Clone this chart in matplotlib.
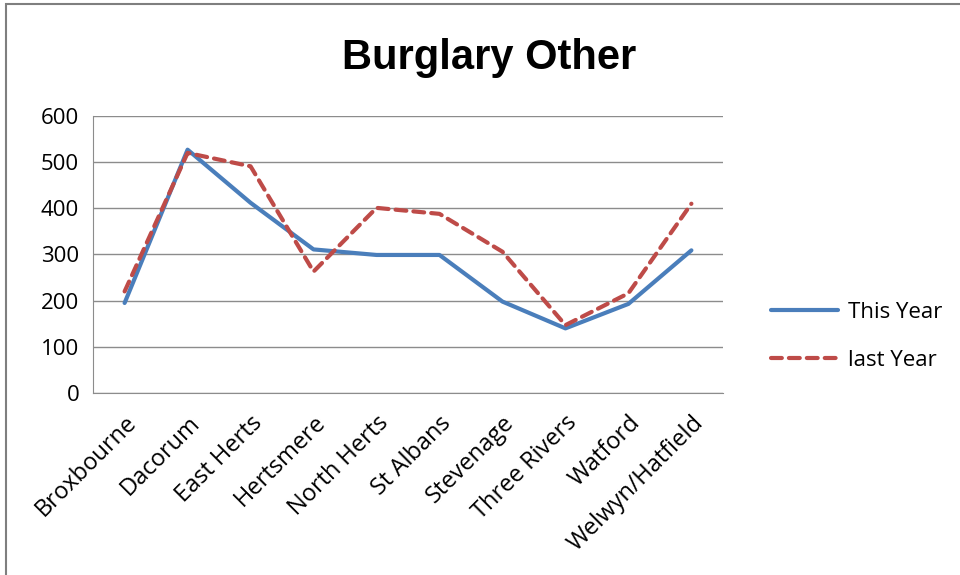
import matplotlib.pyplot as plt
from matplotlib.patches import Rectangle

districts = ["Broxbourne", "Dacorum", "East Herts", "Hertsmere", "North Herts",
             "St Albans", "Stevenage", "Three Rivers", "Watford", "Welwyn/Hatfield"]
this_year = [195, 527, 412, 311, 299, 299, 198, 140, 193, 309]
last_year = [220, 520, 491, 263, 401, 388, 306, 147, 216, 410]
y_ticks = [0, 100, 200, 300, 400, 500, 600]

plt.rcParams["font.family"] = ["Open Sans", "DejaVu Sans"]

fig = plt.figure(figsize=(9.6, 5.75), dpi=100)
ax = fig.add_axes([0.097, 0.3165, 0.656, 0.4818])

x = range(len(districts))
ax.plot(x, this_year, color="#4A7EBB", linewidth=3, label="This Year",
        solid_joinstyle="round", solid_capstyle="round")
ax.plot(x, last_year, color="#BE4B48", linewidth=3, label="last Year",
        linestyle=(0, (2.6, 1.7)), dash_capstyle="round")

ax.set_xlim(-0.5, len(districts) - 0.5)
ax.set_ylim(0, 600)
ax.set_yticks(y_ticks)
ax.set_xticks(list(x))
ax.set_xticklabels(districts, rotation=45, ha="right", rotation_mode="anchor")
ax.tick_params(axis="y", labelsize=16, length=0, pad=10)
ax.tick_params(axis="x", labelsize=17, length=0, pad=13)
ax.grid(axis="y", color="#8c8c8c", linewidth=1)
ax.set_axisbelow(True)
for side in ("top", "right"):
    ax.spines[side].set_visible(False)
for side in ("left", "bottom"):
    ax.spines[side].set_color("#8c8c8c")

fig.text(0.51, 0.9, "Burglary Other", ha="center", va="center",
         fontsize=30, fontweight="bold", family=["Liberation Sans", "DejaVu Sans"])

ax.legend(loc="center left", bbox_to_anchor=(1.045, 0.205), frameon=False,
          fontsize=16, handlelength=3.0, handletextpad=0.45, labelspacing=1.2)

# outer frame of the chart area
fig.patches.append(Rectangle((0.006, -0.01), 1.1, 1.003, transform=fig.transFigure,
                             fill=False, edgecolor="#7f7f7f", linewidth=1.5))

fig.savefig("out.png", dpi=100)
